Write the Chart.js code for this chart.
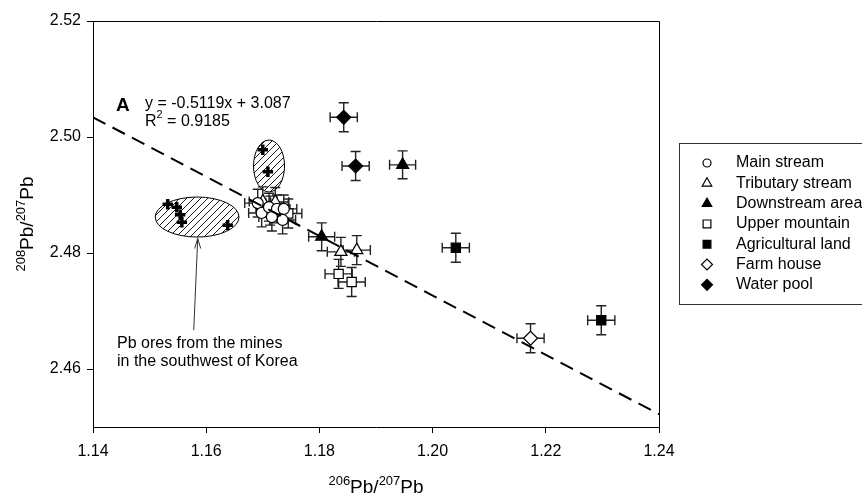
<!DOCTYPE html>
<html>
<head>
<meta charset="utf-8">
<script src="https://cdn.jsdelivr.net/npm/chart.js@4.4.1/dist/chart.umd.min.js"></script>
<style>
  html, body { margin: 0; padding: 0; background: #fff; }
  #wrap { width: 862px; height: 493px; }
</style>
</head>
<body>
<div id="wrap"><canvas id="pbChart" width="862" height="493"></canvas></div>
<script>
// axis ticks
const xTicks = [1.14, 1.16, 1.18, 1.20, 1.22, 1.24];
const yTicks = [2.46, 2.48, 2.50, 2.52];

// sample groups (206Pb/207Pb, 208Pb/207Pb)
const seriesNames = ['Main stream', 'Tributary stream', 'Downstream area', 'Upper mountain',
                     'Agricultural land', 'Farm house', 'Water pool'];
const mainX  = [1.1691, 1.1698, 1.1711, 1.1725, 1.1737, 1.1735, 1.1716];
const mainY  = [2.4886, 2.4869, 2.4879, 2.4876, 2.4876, 2.4857, 2.4862];
const tribX  = [1.1700, 1.1722, 1.1838, 1.1866];
const tribY  = [2.4889, 2.4888, 2.4802, 2.4805];
const downX  = [1.1804, 1.1947];
const downY  = [2.4828, 2.4952];
const upperX = [1.1713, 1.1745, 1.1834, 1.1857];
const upperY = [2.4873, 2.4868, 2.4764, 2.4750];
const agriX  = [1.2041, 1.2298];
const agriY  = [2.4809, 2.4684];
const farmX  = [1.2173];
const farmY  = [2.4653];
const poolX  = [1.1843, 1.1864];
const poolY  = [2.5034, 2.4950];
// error bar half widths per group
const errX = [0.0023, 0.0024, 0.0023, 0.0024, 0.0024, 0.0024, 0.0024];
const errY = [0.0024, 0.0025, 0.0024, 0.0025, 0.0025, 0.0025, 0.0025];

// Pb ores (crosses)
const oreX = [1.1532, 1.1548, 1.1554, 1.1557, 1.1638, 1.1700, 1.1709];
const oreY = [2.4884, 2.4879, 2.4866, 2.4853, 2.4848, 2.4978, 2.4940];

// regression line end points (y = -0.5119x + 3.087)
const fitX = [1.14, 1.24];
const fitY = [2.5034, 2.4522];

// hatched ore zones, arrow (data units)
const oreZones = [
  { cx: 1.1584, cy: 2.4862, rx: 0.0074, ry: 0.00345 },
  { cx: 1.1711, cy: 2.4950, rx: 0.00274, ry: 0.00448 }
];
const arrowFrom = [1.1578, 2.4667];
const arrowTo = [1.1585, 2.4825];

const FONT = '"Liberation Sans", Arial, sans-serif';

function pts(xs, ys) { return xs.map((x, i) => ({ x: x, y: ys[i] })); }

const groupX = [mainX, tribX, downX, upperX, agriX, farmX, poolX];
const groupY = [mainY, tribY, downY, upperY, agriY, farmY, poolY];
const styles = [
  { pointStyle: 'circle',   radius: 5.5, fill: '#fff' },
  { pointStyle: 'triangle', radius: 7,   fill: '#fff' },
  { pointStyle: 'triangle', radius: 7,   fill: '#000' },
  { pointStyle: 'rect',     radius: 6.5, fill: '#fff' },
  { pointStyle: 'rect',     radius: 6.5, fill: '#000' },
  { pointStyle: 'rectRot',  radius: 7,   fill: '#fff' },
  { pointStyle: 'rectRot',  radius: 7,   fill: '#000' }
];

const datasets = [{
  type: 'line',
  label: 'fit',
  data: pts(fitX, fitY),
  borderColor: '#000',
  borderWidth: 2,
  borderDash: [14, 8],
  pointRadius: 0,
  fill: false
}];

seriesNames.forEach((name, i) => {
  datasets.push({
    type: 'scatter',
    label: name,
    data: pts(groupX[i], groupY[i]),
    pointStyle: styles[i].pointStyle,
    pointRadius: styles[i].radius,
    pointBackgroundColor: styles[i].fill,
    pointBorderColor: '#000',
    pointBorderWidth: 1.2,
    errX: errX[i],
    errY: errY[i],
    inLegend: true
  });
});

datasets.push({
  type: 'scatter',
  label: 'Pb ores',
  data: pts(oreX, oreY),
  pointStyle: 'cross',
  pointRadius: 5.2,
  pointBorderColor: '#000',
  pointBorderWidth: 3.5
});

function hatchPattern(ctx) {
  const c = document.createElement('canvas');
  c.width = 7; c.height = 7;
  const g = c.getContext('2d');
  g.fillStyle = '#fff';
  g.fillRect(0, 0, 7, 7);
  g.strokeStyle = '#000';
  g.lineWidth = 0.9;
  g.beginPath();
  g.moveTo(-1, 8); g.lineTo(8, -1);
  g.moveTo(-1, 1); g.lineTo(1, -1);
  g.moveTo(6, 8); g.lineTo(8, 6);
  g.stroke();
  return ctx.createPattern(c, 'repeat');
}

// text with superscripts: parts = [[text, isSup], ...]
function supText(ctx, parts, x, y, big, small) {
  let w = 0;
  parts.forEach(p => {
    ctx.font = (p[1] ? small : big) + 'px ' + FONT;
    w += ctx.measureText(p[0]).width;
  });
  let cx = x - w / 2;
  ctx.textAlign = 'left';
  ctx.textBaseline = 'alphabetic';
  parts.forEach(p => {
    ctx.font = (p[1] ? small : big) + 'px ' + FONT;
    ctx.fillText(p[0], cx, p[1] ? y - big * 0.42 : y);
    cx += ctx.measureText(p[0]).width;
  });
}

const decorPlugin = {
  id: 'decor',
  beforeDatasetsDraw(chart) {
    const ctx = chart.ctx;
    const xs = chart.scales.x, ys = chart.scales.y;
    ctx.save();
    // hatched ellipses
    const pat = hatchPattern(ctx);
    oreZones.forEach(z => {
      const cx = xs.getPixelForValue(z.cx), cy = ys.getPixelForValue(z.cy);
      const rx = Math.abs(xs.getPixelForValue(z.cx + z.rx) - cx);
      const ry = Math.abs(ys.getPixelForValue(z.cy + z.ry) - cy);
      ctx.beginPath();
      ctx.ellipse(cx, cy, rx, ry, 0, 0, Math.PI * 2);
      ctx.fillStyle = pat;
      ctx.fill();
      ctx.strokeStyle = '#000';
      ctx.lineWidth = 1;
      ctx.stroke();
    });
    // error bars
    ctx.strokeStyle = '#222';
    ctx.lineWidth = 1.4;
    const cap = 5;
    chart.data.datasets.forEach(ds => {
      if (!ds.errX) return;
      ds.data.forEach(p => {
        const px = xs.getPixelForValue(p.x), py = ys.getPixelForValue(p.y);
        const x0 = xs.getPixelForValue(p.x - ds.errX), x1 = xs.getPixelForValue(p.x + ds.errX);
        const y0 = ys.getPixelForValue(p.y - ds.errY), y1 = ys.getPixelForValue(p.y + ds.errY);
        ctx.beginPath();
        ctx.moveTo(x0, py); ctx.lineTo(x1, py);
        ctx.moveTo(x0, py - cap); ctx.lineTo(x0, py + cap);
        ctx.moveTo(x1, py - cap); ctx.lineTo(x1, py + cap);
        ctx.moveTo(px, y0); ctx.lineTo(px, y1);
        ctx.moveTo(px - cap, y0); ctx.lineTo(px + cap, y0);
        ctx.moveTo(px - cap, y1); ctx.lineTo(px + cap, y1);
        ctx.stroke();
      });
    });
    ctx.restore();
  },
  afterDraw(chart) {
    const ctx = chart.ctx;
    const a = chart.chartArea;
    const xs = chart.scales.x, ys = chart.scales.y;
    ctx.save();
    // top and right frame
    ctx.strokeStyle = '#000';
    ctx.lineWidth = 1;
    ctx.beginPath();
    ctx.moveTo(a.left, a.top + 0.5); ctx.lineTo(a.right + 0.5, a.top + 0.5);
    ctx.lineTo(a.right + 0.5, a.bottom);
    ctx.stroke();

    ctx.fillStyle = '#000';
    // equation
    ctx.textBaseline = 'middle';
    ctx.textAlign = 'left';
    ctx.font = 'bold 19px ' + FONT;
    ctx.fillText('A', 116, 106);
    ctx.font = '16px ' + FONT;
    ctx.fillText('y = -0.5119x + 3.087', 145, 104);
    ctx.fillText('R', 145, 122);
    let rw = ctx.measureText('R').width;
    ctx.font = '11px ' + FONT;
    ctx.fillText('2', 145 + rw, 115);
    let sw = ctx.measureText('2').width;
    ctx.font = '16px ' + FONT;
    ctx.fillText(' = 0.9185', 145 + rw + sw, 122);

    // note and arrow
    ctx.fillText('Pb ores from the mines', 117, 344);
    ctx.fillText('in the southwest of Korea', 117, 362);
    const ax0 = xs.getPixelForValue(arrowFrom[0]), ay0 = ys.getPixelForValue(arrowFrom[1]);
    const ax1 = xs.getPixelForValue(arrowTo[0]), ay1 = ys.getPixelForValue(arrowTo[1]);
    ctx.strokeStyle = '#333';
    ctx.lineWidth = 1;
    ctx.beginPath();
    ctx.moveTo(ax0, ay0); ctx.lineTo(ax1, ay1);
    ctx.moveTo(ax1 - 3, ay1 + 10); ctx.lineTo(ax1, ay1); ctx.lineTo(ax1 + 3, ay1 + 10);
    ctx.stroke();

    // axis titles
    ctx.fillStyle = '#000';
    supText(ctx, [['206', true], ['Pb/', false], ['207', true], ['Pb', false]],
            (a.left + a.right) / 2, 493, 19, 13);
    ctx.save();
    ctx.translate(33, (a.top + a.bottom) / 2);
    ctx.rotate(-Math.PI / 2);
    supText(ctx, [['208', true], ['Pb/', false], ['207', true], ['Pb', false]], 0, 0, 19, 13);
    ctx.restore();

    // legend
    ctx.strokeStyle = '#333';
    ctx.lineWidth = 1;
    ctx.strokeRect(679.5, 143.5, 260, 161);
    let row = 0;
    chart.data.datasets.forEach(ds => {
      if (!ds.inLegend) return;
      const y = 163 + row * 20.3;
      ctx.fillStyle = ds.pointBackgroundColor;
      ctx.strokeStyle = '#000';
      ctx.lineWidth = 1.2;
      Chart.helpers.drawPoint(ctx, {
        pointStyle: ds.pointStyle,
        radius: ds.pointStyle === 'circle' ? 4 : 5.5,
        rotation: 0,
        borderWidth: 1.2
      }, 707, y);
      ctx.fillStyle = '#000';
      ctx.font = '16px ' + FONT;
      ctx.textAlign = 'left';
      ctx.textBaseline = 'middle';
      ctx.fillText(ds.label, 736, y);
      row++;
    });
    ctx.restore();
  }
};

function axisCommon(ticks, pad) {
  return {
    type: 'linear',
    afterBuildTicks: s => { s.ticks = ticks.map(v => ({ value: v })); },
    ticks: {
      callback: v => v.toFixed(2),
      color: '#000',
      font: { family: FONT, size: 16 },
      padding: pad,
      autoSkip: false,
      maxRotation: 0
    },
    grid: { display: true, drawOnChartArea: false, drawTicks: true, tickLength: 6, color: '#000' },
    border: { display: true, color: '#000', width: 1 },
    title: { display: false }
  };
}

const xAxis = Object.assign(axisCommon(xTicks, 9), {
  min: 1.14, max: 1.24, position: 'bottom',
  afterFit: s => { s.height = 66; }
});
const yAxis = Object.assign(axisCommon(yTicks, 6), {
  min: 2.45, max: 2.52, position: 'left',
  afterFit: s => { s.width = 93; }
});

new Chart(document.getElementById('pbChart').getContext('2d'), {
  type: 'scatter',
  data: { datasets: datasets },
  options: {
    responsive: false,
    animation: false,
    layout: { padding: { left: 0, right: 203, top: 21, bottom: 0 } },
    plugins: { legend: { display: false }, tooltip: { enabled: false } },
    scales: { x: xAxis, y: yAxis }
  },
  plugins: [decorPlugin]
});
</script>
</body>
</html>
